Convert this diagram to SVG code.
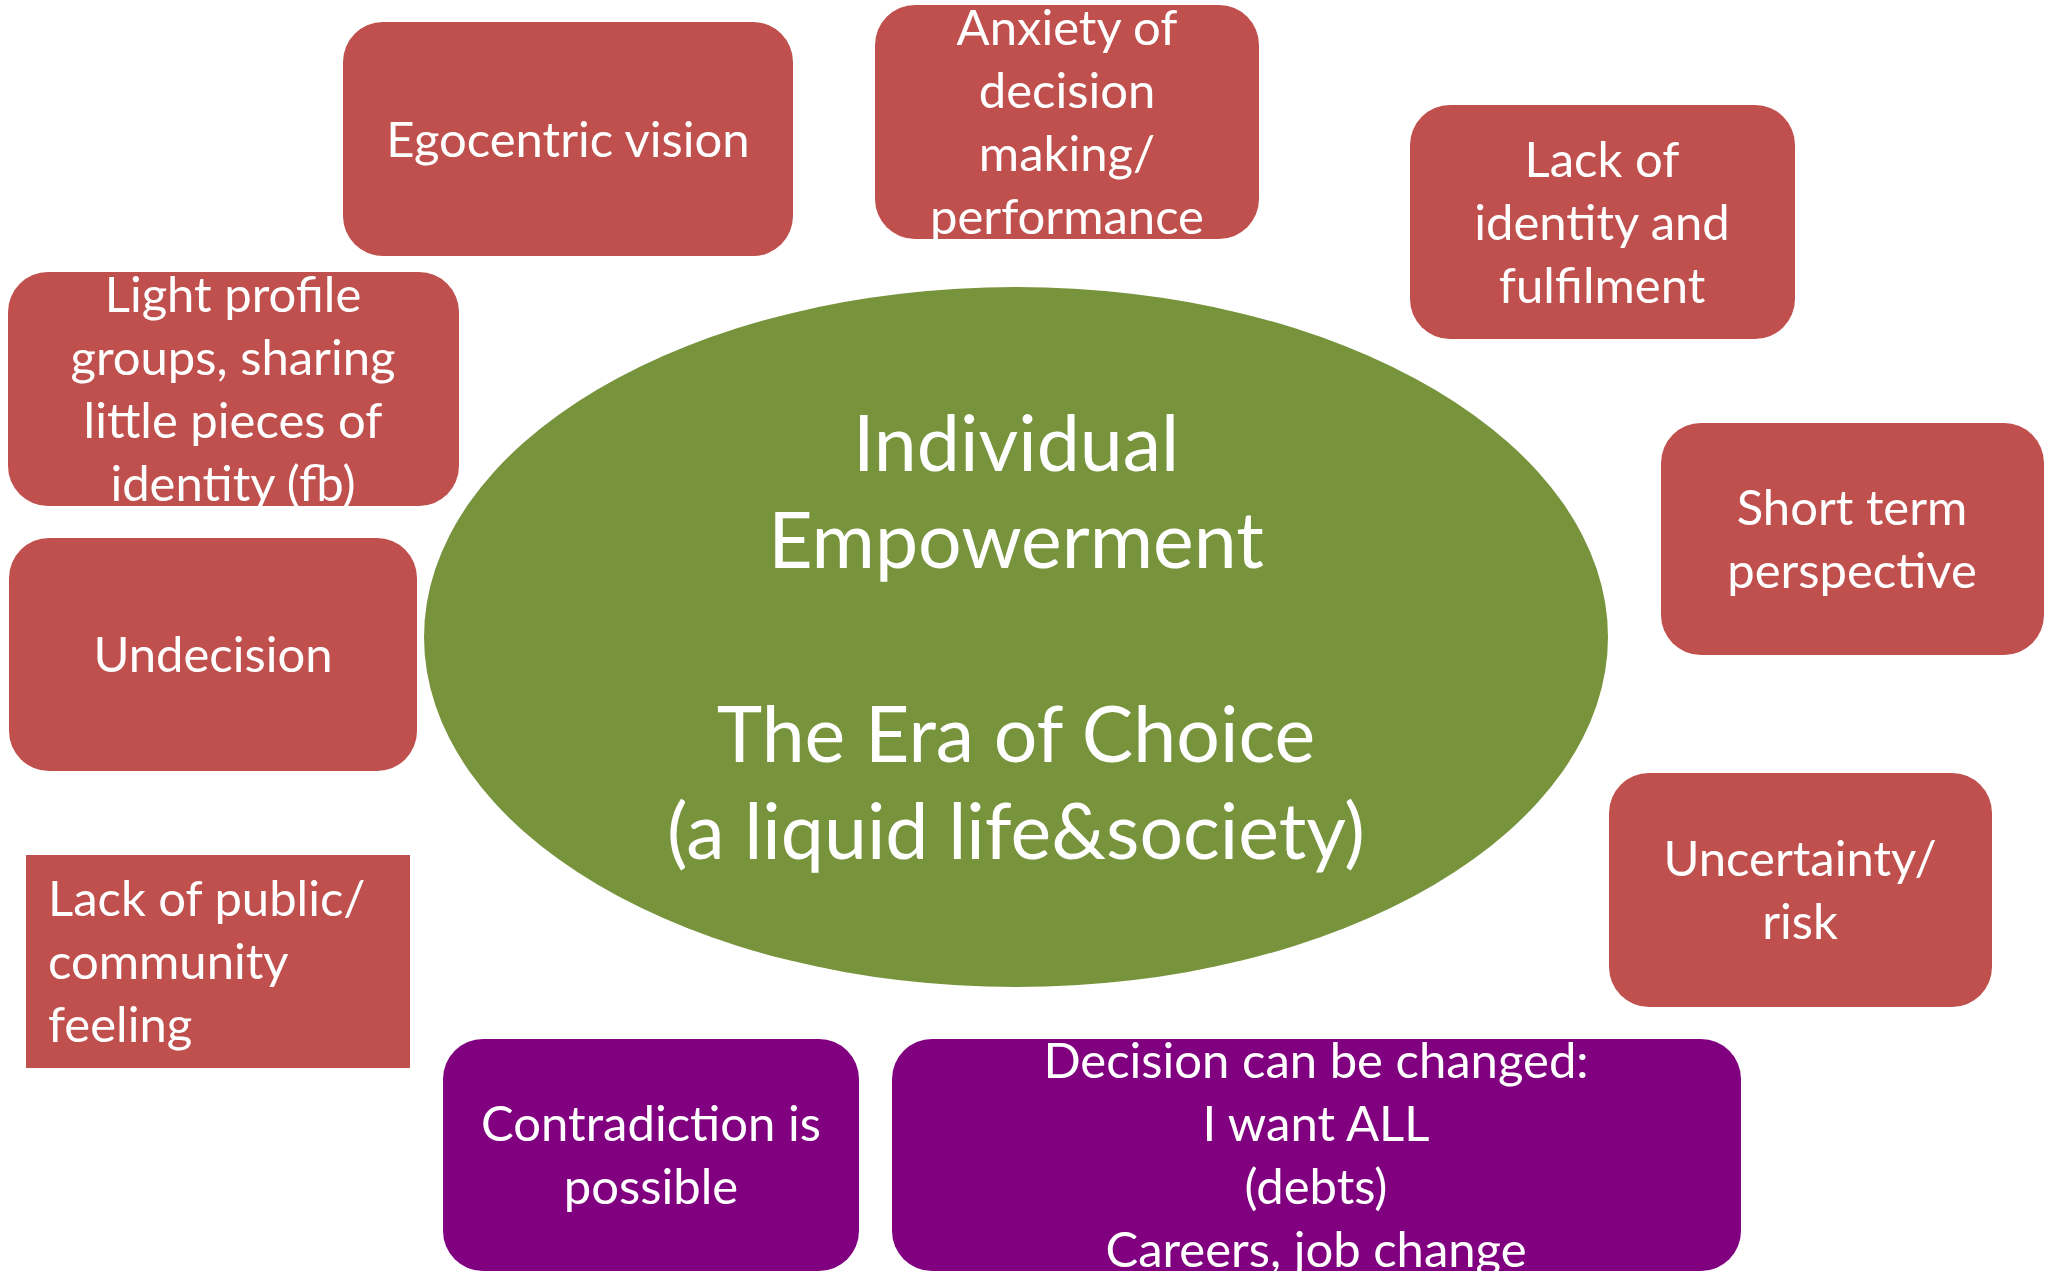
<svg xmlns="http://www.w3.org/2000/svg" width="2051" height="1273" viewBox="0 0 2051 1273">
<style>
.red{fill:#C0504D}
.pur{fill:#800080}
.t{font-family:Lato,"Noto Sans","Liberation Sans",sans-serif;fill:#FFFFFF;font-size:49px;text-anchor:middle}
.l{text-anchor:start}
.big{font-size:77px}
</style>
<rect width="2051" height="1273" fill="#FFFFFF"/>
<g id="connectors"/>
<g id="center">
<ellipse cx="1016" cy="637" rx="592" ry="350" fill="#77933C"/>
<text class="t big" x="1016" y="471">Individual</text>
<text class="t big" x="1016" y="568">Empowerment</text>
<text class="t big" x="1016" y="762">The Era of Choice</text>
<text class="t big" x="1016" y="859">(a liquid life&amp;society)</text>
</g>
<g id="egocentric">
<rect class="red" x="343" y="22" width="450" height="234" rx="40"/>
<text class="t" x="568" y="157">Egocentric vision</text>
</g>
<g id="anxiety">
<rect class="red" x="875" y="5" width="384" height="234" rx="40"/>
<text class="t" x="1067" y="45">Anxiety of</text>
<text class="t" x="1067" y="108">decision</text>
<text class="t" x="1067" y="171">making/</text>
<text class="t" x="1067" y="234">performance</text>
</g>
<g id="lack-identity">
<rect class="red" x="1410" y="105" width="385" height="234" rx="40"/>
<text class="t" x="1602" y="177">Lack of</text>
<text class="t" x="1602" y="240">identity and</text>
<text class="t" x="1602" y="303">fulfilment</text>
</g>
<g id="light-profile">
<rect class="red" x="8" y="272" width="451" height="234" rx="40"/>
<text class="t" x="233" y="312">Light profile</text>
<text class="t" x="233" y="375">groups, sharing</text>
<text class="t" x="233" y="438">little pieces of</text>
<text class="t" x="233" y="501">identity (fb)</text>
</g>
<g id="short-term">
<rect class="red" x="1661" y="423" width="383" height="232" rx="40"/>
<text class="t" x="1852" y="525">Short term</text>
<text class="t" x="1852" y="588">perspective</text>
</g>
<g id="undecision">
<rect class="red" x="9" y="538" width="408" height="233" rx="40"/>
<text class="t" x="213" y="672">Undecision</text>
</g>
<g id="uncertainty">
<rect class="red" x="1609" y="773" width="383" height="234" rx="40"/>
<text class="t" x="1800" y="876">Uncertainty/</text>
<text class="t" x="1800" y="939">risk</text>
</g>
<g id="lack-public">
<rect class="red" x="26" y="855" width="384" height="213"/>
<text class="t l" x="48" y="916">Lack of public/</text>
<text class="t l" x="48" y="979">community</text>
<text class="t l" x="48" y="1042">feeling</text>
</g>
<g id="contradiction">
<rect class="pur" x="443" y="1039" width="416" height="232" rx="40"/>
<text class="t" x="651" y="1141">Contradiction is</text>
<text class="t" x="651" y="1204">possible</text>
</g>
<g id="decision">
<rect class="pur" x="892" y="1039" width="849" height="232" rx="40"/>
<text class="t" x="1316" y="1078">Decision can be changed:</text>
<text class="t" x="1316" y="1141">I want ALL</text>
<text class="t" x="1316" y="1204">(debts)</text>
<text class="t" x="1316" y="1267">Careers, job change</text>
</g>
</svg>
